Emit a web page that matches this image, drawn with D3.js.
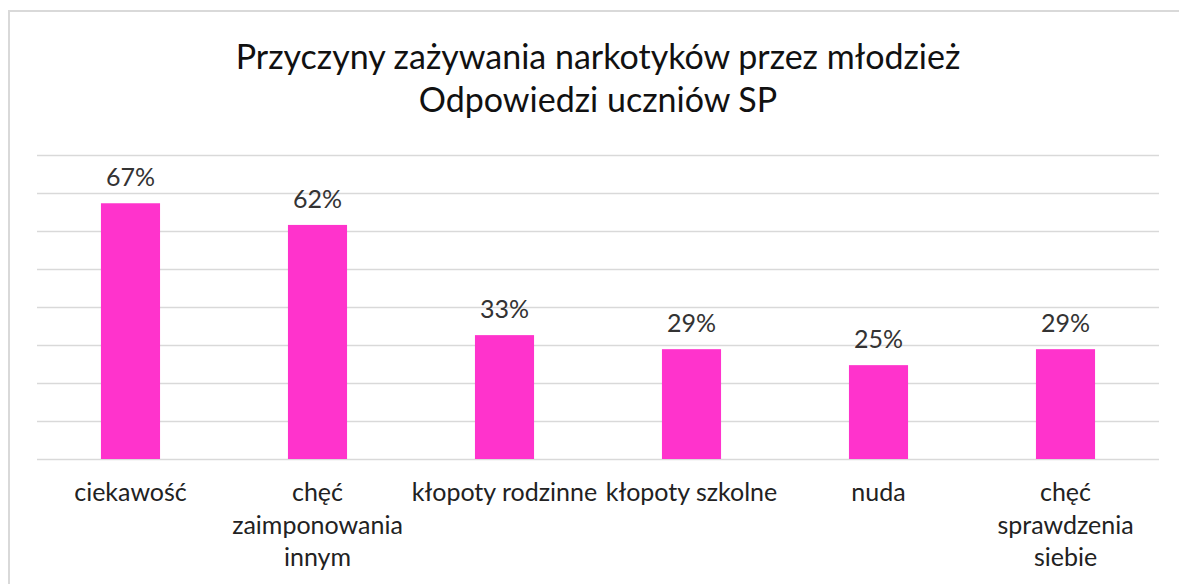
<!DOCTYPE html>
<html lang="pl">
<head>
<meta charset="utf-8">
<title>Przyczyny zażywania narkotyków</title>
<script src="https://d3js.org/d3.v7.min.js"></script>
<style>
  body { margin: 0; background: #fff; }
  text { font-family: Lato, "Open Sans", sans-serif; }
  .title { font-size: 34px; fill: #111; }
  .value { font-size: 25px; fill: #333; }
  .cat { font-size: 25px; fill: #222; }
  .grid line { stroke: #d9d9d9; stroke-width: 1.5; }
</style>
</head>
<body>
<script>
// dane
var titleLines = ["Przyczyny zażywania narkotyków przez młodzież", "Odpowiedzi uczniów SP"];
var categories = ["ciekawość", "chęć zaimponowania innym", "kłopoty rodzinne", "kłopoty szkolne", "nuda", "chęć sprawdzenia siebie"];
var values = [67.3, 61.6, 32.6, 28.9, 24.7, 28.9];
var yTicks = [0, 10, 20, 30, 40, 50, 60, 70, 80];

var width = 1179, height = 584;
var plotLeft = 37, plotRight = 1159, plotTop = 155, plotBottom = 459;

var svg = d3.select("body").append("svg")
  .attr("width", width)
  .attr("height", height);

svg.append("rect").attr("width", width).attr("height", height).attr("fill", "#fff");

// ramka wykresu
svg.append("path")
  .attr("d", "M9," + height + "V11H" + width)
  .attr("fill", "none")
  .attr("stroke", "#d9d9d9")
  .attr("stroke-width", 2);

var x = d3.scaleBand()
  .domain(categories)
  .range([plotLeft, plotRight])
  .paddingInner(0.684)
  .paddingOuter(0.342);

var y = d3.scaleLinear()
  .domain([0, 80])
  .range([plotBottom, plotTop]);

svg.append("g")
  .attr("class", "grid")
  .attr("transform", "translate(" + plotLeft + ",0)")
  .call(d3.axisLeft(y).tickValues(yTicks).tickSize(-(plotRight - plotLeft)).tickFormat(""))
  .call(function(g) { g.select(".domain").remove(); });

svg.selectAll(".bar")
  .data(values)
  .enter().append("rect")
  .attr("class", "bar")
  .attr("x", function(d, i) { return x(categories[i]); })
  .attr("y", function(d) { return y(d); })
  .attr("width", x.bandwidth())
  .attr("height", function(d) { return y(0) - y(d); })
  .attr("fill", "#ff33cc");

svg.selectAll(".value")
  .data(values)
  .enter().append("text")
  .attr("class", "value")
  .attr("x", function(d, i) { return x(categories[i]) + x.bandwidth() / 2; })
  .attr("y", function(d) { return y(d) - 17; })
  .attr("text-anchor", "middle")
  .text(function(d) { return Math.round(d) + "%"; });

// etykiety kategorii z zawijaniem
var maxW = x.step();
var cat = svg.selectAll(".cat")
  .data(categories)
  .enter().append("text")
  .attr("class", "cat")
  .attr("text-anchor", "middle")
  .attr("x", function(d) { return x(d) + x.bandwidth() / 2; })
  .attr("y", 501);

cat.each(function(d) {
  var t = d3.select(this), words = d.split(" "), line = [];
  var cx = t.attr("x");
  var ts = t.append("tspan").attr("x", cx).attr("dy", 0);
  words.forEach(function(w) {
    line.push(w);
    ts.text(line.join(" "));
    if (ts.node().getComputedTextLength() > maxW && line.length > 1) {
      line.pop();
      ts.text(line.join(" "));
      line = [w];
      ts = t.append("tspan").attr("x", cx).attr("dy", 32.5).text(w);
    }
  });
});

svg.selectAll(".title")
  .data(titleLines)
  .enter().append("text")
  .attr("class", "title")
  .attr("x", (plotLeft + plotRight) / 2)
  .attr("y", function(d, i) { return 69 + i * 43; })
  .attr("text-anchor", "middle")
  .text(function(d) { return d; });
</script>
</body>
</html>
